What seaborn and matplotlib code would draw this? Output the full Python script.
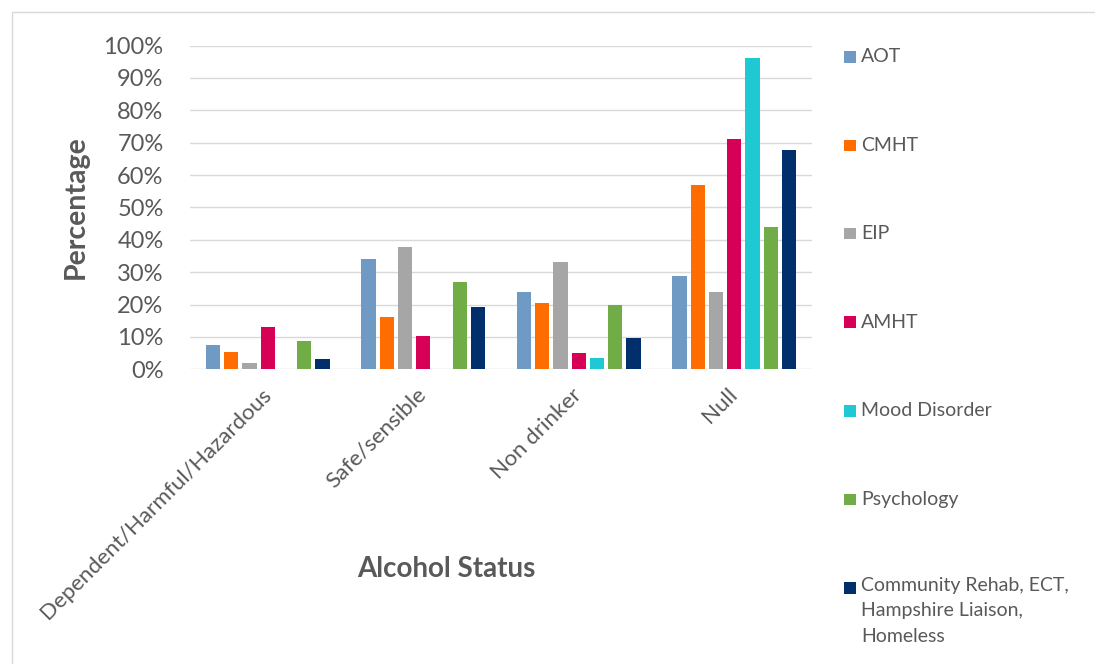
import matplotlib
matplotlib.use("Agg")
import matplotlib.pyplot as plt
from matplotlib.patches import Rectangle
from matplotlib.ticker import PercentFormatter, MultipleLocator
import pandas as pd
import seaborn as sns

# Alcohol status categories and the share (%) of each team's caseload in them
statuses = ["Dependent/Harmful/Hazardous", "Safe/sensible", "Non drinker", "Null"]
teams = ["AOT", "CMHT", "EIP", "AMHT", "Mood Disorder", "Psychology",
         "Community Rehab, ECT,\nHampshire Liaison,\nHomeless"]

aot = [7.4, 34.1, 23.9, 28.9]
cmht = [5.4, 16.1, 20.5, 56.9]
eip = [2.0, 37.9, 33.2, 24.0]
amht = [13.0, 10.3, 5.1, 71.1]
mood = [0.0, 0.0, 3.6, 96.1]
psychology = [8.7, 26.9, 19.8, 44.1]
community = [3.2, 19.3, 9.6, 67.7]

colors = ["#6F9AC4", "#FF6D00", "#A6A6A6", "#D60057", "#1FC9D3", "#70AD47", "#002F6C"]

series = [aot, cmht, eip, amht, mood, psychology, community]
rows = []
for team, vals in zip(teams, series):
    for status, v in zip(statuses, vals):
        rows.append({"Alcohol Status": status, "Team": team, "Percentage": v})
df = pd.DataFrame(rows)

sns.set_theme(style="white")
plt.rcParams["font.family"] = ["Lato", "DejaVu Sans"]
TEXT = "#595959"
GRID = "#D9D9D9"

W, H = 1095, 664
fig = plt.figure(figsize=(W / 100, H / 100), dpi=100)
fig.patch.set_facecolor("white")

# chart frame
fig.patches.append(Rectangle((11.5 / W, -0.1), 1.2, (H - 11.5) / H + 0.1,
                             transform=fig.transFigure, fill=False,
                             edgecolor=GRID, linewidth=1.0, zorder=0))

ax = fig.add_axes([190 / W, 1 - 369.3 / H, 622 / W, 323.8 / H])
sns.barplot(data=df, x="Alcohol Status", y="Percentage", hue="Team",
            hue_order=teams, order=statuses, palette=colors, saturation=1,
            width=0.82, gap=0.22, errorbar=None, legend=False, ax=ax,
            linewidth=0)

ax.set_ylim(0, 100)
ax.yaxis.set_major_locator(MultipleLocator(10))
ax.yaxis.set_major_formatter(PercentFormatter(100, decimals=0))
ax.grid(axis="y", color=GRID, linewidth=1.0)
ax.set_axisbelow(True)
for s in ax.spines.values():
    s.set_visible(False)
ax.tick_params(axis="y", length=0, pad=19, labelsize=17, labelcolor=TEXT)
ax.tick_params(axis="x", length=0, pad=16, labelsize=16.1, labelcolor=TEXT)
for lab in ax.get_xticklabels():
    lab.set_rotation(45)
    lab.set_ha("right")
    lab.set_va("center")
    lab.set_rotation_mode("anchor")

ax.set_ylabel("Percentage", fontsize=20.5, fontweight="bold", color=TEXT)
ax.yaxis.set_label_coords((89 - 190) / 622, 0.5)
ax.set_xlabel("Alcohol Status", fontsize=20, fontweight="bold", color=TEXT,
              va="center")
ax.xaxis.set_label_coords((446 - 190) / 622, (369.3 - 569) / 323.8)

# legend column on the right
y0, step = 57, 88.5
for i, (team, c) in enumerate(zip(teams, colors)):
    yc = y0 + i * step
    fig.patches.append(Rectangle((844 / W, 1 - (yc + 5.5) / H), 11.5 / W, 11.5 / H,
                                 transform=fig.transFigure, facecolor=c,
                                 edgecolor="none"))
    if "\n" in team:
        fig.text(861 / W, 1 - (yc - 11.5) / H, team, fontsize=14, color=TEXT,
                 va="top", ha="left", linespacing=1.62)
    else:
        fig.text(861 / W, 1 - yc / H, team, fontsize=14, color=TEXT,
                 va="center", ha="left")

fig.savefig("out.png", dpi=100)
